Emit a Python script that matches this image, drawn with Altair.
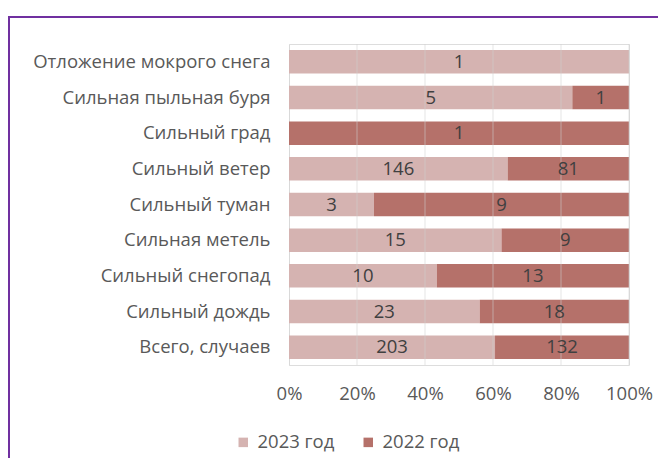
import altair as alt
import pandas as pd

categories = ["Отложение мокрого снега", "Сильная пыльная буря", "Сильный град",
              "Сильный ветер", "Сильный туман", "Сильная метель",
              "Сильный снегопад", "Сильный дождь", "Всего, случаев"]
series = ["2023 год", "2022 год"]
v2023 = [1, 5, 0, 146, 3, 15, 10, 23, 203]
v2022 = [0, 1, 1, 81, 9, 9, 13, 18, 132]
ticks = [0, 0.2, 0.4, 0.6, 0.8, 1.0]
colors = ["#D5B3B1", "#B5716A"]

rows = []
for i, c in enumerate(categories):
    rows.append({"category": c, "year": series[0], "order": 0, "value": v2023[i]})
    rows.append({"category": c, "year": series[1], "order": 1, "value": v2022[i]})
df = pd.DataFrame(rows)

FONT = "Open Sans"
FS = 18.5
W, H = 340, 321

base = alt.Chart(df).transform_stack(
    stack="value", groupby=["category"], as_=["x0", "x1"],
    offset="normalize", sort=[alt.SortField("order")]
).transform_calculate(mid="(datum.x0 + datum.x1) / 2")

yenc = alt.Y("category:N", sort=categories, title=None,
             scale=alt.Scale(paddingInner=0.34, paddingOuter=0.17),
             axis=alt.Axis(ticks=False, domain=True, domainColor="#d9d9d9",
                           labelPadding=19, labelLimit=400, labelFontSize=FS,
                           labelColor="#595959", labelFont=FONT))

xscale = alt.Scale(domain=[0, 1])

bars = base.mark_bar().encode(
    x=alt.X("x0:Q", scale=xscale, title=None,
            axis=alt.Axis(values=ticks, format=".0%", domain=False, ticks=False,
                          grid=False, labelFlush=False, labelBound=False,
                          labelPadding=19, labelFontSize=FS, labelColor="#595959",
                          labelFont=FONT)),
    x2="x1:Q",
    y=yenc,
    color=alt.Color("year:N", scale=alt.Scale(domain=series, range=colors), title=None,
                    legend=alt.Legend(orient="none", legendX=-55, legendY=389,
                                      direction="horizontal", symbolType="square",
                                      symbolSize=90, symbolStrokeWidth=0,
                                      labelFontSize=FS, labelColor="#595959",
                                      labelFont=FONT, columnPadding=24, labelOffset=5)),
    order=alt.Order("order:Q"),
)

grid = alt.Chart(pd.DataFrame({"t": ticks[1:]})).mark_rule(
    color="#d0d0d0", opacity=0.55, strokeWidth=1
).encode(x=alt.X("t:Q", scale=xscale), y=alt.value(0), y2=alt.value(H))

labels = base.transform_filter("datum.value > 0").mark_text(
    fontSize=FS, color="#404040", font=FONT, baseline="middle", align="center"
).encode(
    x=alt.X("mid:Q", scale=xscale),
    y=alt.Y("category:N", sort=categories),
    text="value:Q",
)

border_top = alt.Chart(pd.DataFrame({"a": [0]})).mark_rule(
    color="#7030A0", strokeWidth=2
).encode(x=alt.value(-281), x2=alt.value(369), y=alt.value(-27))
border_left = alt.Chart(pd.DataFrame({"a": [0]})).mark_rule(
    color="#7030A0", strokeWidth=2
).encode(x=alt.value(-280), y=alt.value(-28), y2=alt.value(414))

chart = alt.layer(bars, grid, labels, border_top, border_left).properties(
    width=W, height=H,
    autosize=alt.AutoSizeParams(type="none"),
    padding={"left": 281, "top": 36, "right": 29, "bottom": 93},
).configure_view(stroke=None).configure(background="white")

chart.save("out.html", embed_options={"renderer": "svg", "actions": False})
